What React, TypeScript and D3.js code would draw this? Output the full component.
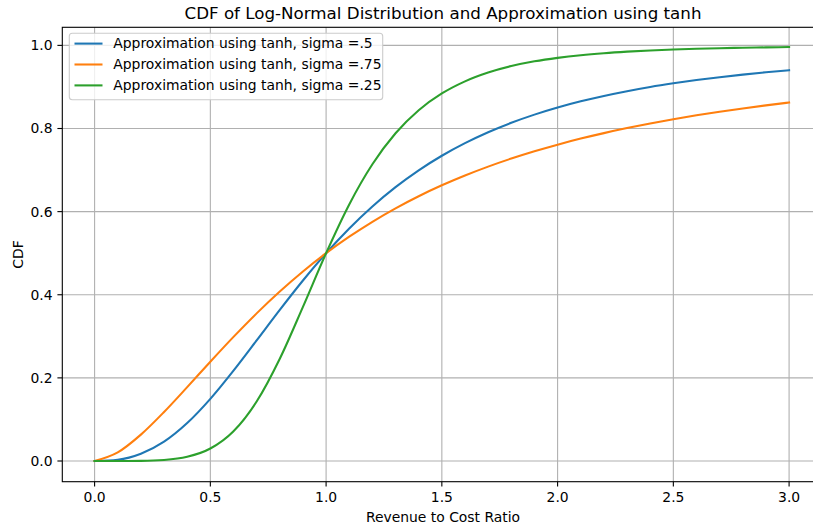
import React, { useEffect } from "react";
import * as d3 from "d3";

// Revenue to cost ratio sample points
const ratios = [
  0.0, 0.1, 0.2, 0.3, 0.4, 0.5, 0.6, 0.7, 0.8, 0.9, 1.0, 1.1, 1.2, 1.3, 1.4, 1.5,
  1.6, 1.7, 1.8, 1.9, 2.0, 2.1, 2.2, 2.3, 2.4, 2.5, 2.6, 2.7, 2.8, 2.9, 3.0,
];

// CDF values
const sigma50 = [
  0.0, 0.0031, 0.0174, 0.0465, 0.0913, 0.1495, 0.2174, 0.2902, 0.3636, 0.4343, 0.5,
  0.5595, 0.6124, 0.6588, 0.6993, 0.7344, 0.7647, 0.791, 0.8137, 0.8334, 0.8505,
  0.8654, 0.8784, 0.8898, 0.8999, 0.9087, 0.9166, 0.9235, 0.9297, 0.9353, 0.9402,
];
const sigma75 = [
  0.0, 0.0208, 0.0635, 0.1179, 0.1777, 0.2389, 0.2986, 0.3552, 0.4078, 0.4561, 0.5,
  0.5397, 0.5756, 0.608, 0.6371, 0.6633, 0.6869, 0.7083, 0.7276, 0.7452, 0.7611,
  0.7757, 0.7889, 0.801, 0.8121, 0.8223, 0.8317, 0.8403, 0.8483, 0.8557, 0.8626,
];
const sigma25 = [
  0.0, 0.0, 0.0003, 0.0024, 0.01, 0.03, 0.0716, 0.1432, 0.2461, 0.3709, 0.5,
  0.6173, 0.7139, 0.7885, 0.8439, 0.8843, 0.9135, 0.9347, 0.9502, 0.9616, 0.97,
  0.9764, 0.9812, 0.9849, 0.9878, 0.99, 0.9918, 0.9932, 0.9943, 0.9952, 0.996,
];

const seriesNames = [
  "Approximation using tanh, sigma =.5",
  "Approximation using tanh, sigma =.75",
  "Approximation using tanh, sigma =.25",
];
const seriesValues = [sigma50, sigma75, sigma25];
const colors = ["#1f77b4", "#ff7f0e", "#2ca02c"];

const xTicks = [0, 0.5, 1.0, 1.5, 2.0, 2.5, 3.0];
const yTicks = [0, 0.2, 0.4, 0.6, 0.8, 1.0];

const W = 813;
const H = 527;
const left = 62.3;
const right = 823.7; // axes run past the right edge of the picture
const top = 27.3;
const bottom = 481.7;
const font = "DejaVu Sans, sans-serif";

export default function App() {
  useEffect(() => {
    document.body.style.margin = "0";
  }, []);

  const x = d3.scaleLinear().domain([-0.1395, 3.1495]).range([left, right]);
  const y = d3.scaleLinear().domain([-0.0498, 1.0435]).range([bottom, top]);

  const line = d3
    .line<number>()
    .x((_, i) => x(ratios[i]))
    .y((d) => y(d))
    .curve(d3.curveMonotoneX);

  const legendX = 69.3;
  const legendY = 33.3;

  return (
    <svg width={W} height={H} style={{ display: "block", overflow: "hidden" }} fontFamily={font}>
      <rect width={W} height={H} fill="#fff" />

      {/* grid */}
      {xTicks.map((t) => (
        <line key={"gx" + t} x1={x(t)} x2={x(t)} y1={top} y2={bottom} stroke="#b0b0b0" strokeWidth={1.1} />
      ))}
      {yTicks.map((t) => (
        <line key={"gy" + t} x1={left} x2={right} y1={y(t)} y2={y(t)} stroke="#b0b0b0" strokeWidth={1.1} />
      ))}

      {/* series */}
      {seriesValues.map((vals, i) => (
        <path key={i} d={line(vals) || ""} fill="none" stroke={colors[i]} strokeWidth={2.08} strokeLinejoin="round" strokeLinecap="square" />
      ))}

      {/* spines */}
      <rect x={left} y={top} width={right - left} height={bottom - top} fill="none" stroke="#000" strokeWidth={1.1} />

      {/* x ticks */}
      {xTicks.map((t) => (
        <g key={"xt" + t} transform={`translate(${x(t)},${bottom})`}>
          <line y2={4.9} stroke="#000" strokeWidth={1.1} />
          <text y={20.2} textAnchor="middle" fontSize={13.9} fill="#000">{t.toFixed(1)}</text>
        </g>
      ))}
      {/* y ticks */}
      {yTicks.map((t) => (
        <g key={"yt" + t} transform={`translate(${left},${y(t)})`}>
          <line x2={-4.9} stroke="#000" strokeWidth={1.1} />
          <text x={-9.8} dy="0.35em" textAnchor="end" fontSize={13.9} fill="#000">{t.toFixed(1)}</text>
        </g>
      ))}

      {/* labels */}
      <text x={(left + right) / 2} y={18.5} textAnchor="middle" fontSize={16.7} fill="#000">
        CDF of Log-Normal Distribution and Approximation using tanh
      </text>
      <text x={(left + right) / 2} y={522} textAnchor="middle" fontSize={13.9} fill="#000">
        Revenue to Cost Ratio
      </text>
      <text transform={`translate(23,${(top + bottom) / 2}) rotate(-90)`} textAnchor="middle" fontSize={13.9} fill="#000">
        CDF
      </text>

      {/* legend */}
      <rect x={legendX} y={legendY} width={313.4} height={66.4} rx={3} fill="#fff" fillOpacity={0.8} stroke="#cccccc" strokeWidth={1.1} />
      {seriesNames.map((name, i) => {
        const cy = 43.6 + i * 20.9;
        return (
          <g key={name}>
            <line x1={74.5} x2={102.5} y1={cy} y2={cy} stroke={colors[i]} strokeWidth={2.08} />
            <text x={113.3} y={cy} dy="0.35em" fontSize={13.9} fill="#000">{name}</text>
          </g>
        );
      })}
    </svg>
  );
}
